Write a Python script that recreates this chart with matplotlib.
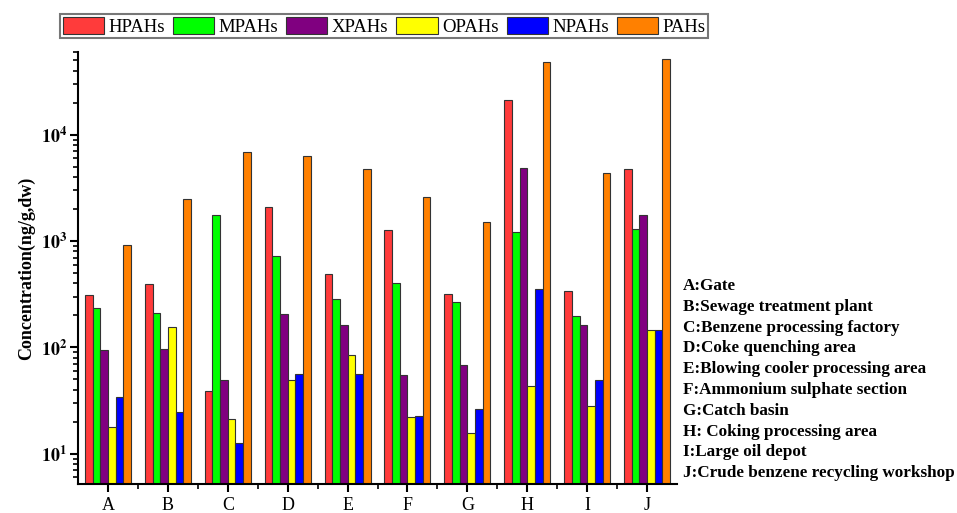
import numpy as np
import matplotlib
matplotlib.use("Agg")
import matplotlib.pyplot as plt
from matplotlib.ticker import LogLocator, FuncFormatter, FixedLocator

plt.rcParams['font.family'] = ['Liberation Serif', 'DejaVu Serif']
plt.rcParams['mathtext.fontset'] = 'stix'

sites = ['A', 'B', 'C', 'D', 'E', 'F', 'G', 'H', 'I', 'J']
series_names = ['HPAHs', 'MPAHs', 'XPAHs', 'OPAHs', 'NPAHs', 'PAHs']
HPAHs = [314, 393, 38.7, 2090, 486, 1280, 321, 21300, 343, 4760]
MPAHs = [237, 209, 1760, 730, 288, 402, 270, 1230, 197, 1310]
XPAHs = [95, 97.5, 49, 205, 161, 55, 69, 4900, 163, 1770]
OPAHs = [17.7, 156, 21.3, 49, 85, 22.1, 15.8, 43.8, 27.9, 145]
NPAHs = [34.4, 25, 12.7, 56.5, 56.5, 22.7, 26.3, 355, 49.5, 145]
PAHs = [927, 2510, 6850, 6280, 4730, 2590, 1530, 48400, 4340, 51300]
site_names = ['A:Gate', 'B:Sewage treatment plant', 'C:Benzene processing factory',
              'D:Coke quenching area', 'E:Blowing cooler processing area',
              'F:Ammonium sulphate section', 'G:Catch basin',
              'H: Coking processing area', 'I:Large oil depot',
              'J:Crude benzene recycling workshop']

colors = ['#FF3B3B', '#00FF00', '#800080', '#FFFF00', '#0000FF', '#FF8000']
data = [HPAHs, MPAHs, XPAHs, OPAHs, NPAHs, PAHs]

fig = plt.figure(figsize=(9.57, 5.13), dpi=100)
ax = fig.add_axes([0.0815, 0.0565, 0.626, 0.842])

x = np.arange(len(sites))
w = 0.128
for i, (vals, c, name) in enumerate(zip(data, colors, series_names)):
    ax.bar(x + (i - 2.5) * w, vals, width=w, color=c, edgecolor='#333333',
           linewidth=0.8, label=name, bottom=0)

ax.set_yscale('log')
ax.set_ylim(5.2, 60000)
ax.set_xlim(-0.5, 9.5)
ax.yaxis.set_major_locator(LogLocator(base=10, numticks=10))
ax.yaxis.set_minor_locator(LogLocator(base=10, subs=np.arange(2, 10), numticks=20))
ax.yaxis.set_major_formatter(FuncFormatter(
    lambda v, p: r'$\mathbf{10^{%d}}$' % int(round(np.log10(v)))))
ax.set_xticks(x)
ax.set_xticklabels(sites, fontsize=13)
ax.xaxis.set_minor_locator(FixedLocator(np.arange(0.5, 9.0, 1.0)))

for s in ['top', 'right']:
    ax.spines[s].set_visible(False)
for s in ['left', 'bottom']:
    ax.spines[s].set_linewidth(1.5)
ax.tick_params(axis='both', which='major', direction='out', length=6, width=1.5)
ax.tick_params(axis='both', which='minor', direction='out', length=3.5, width=1.2)
ax.tick_params(axis='y', which='major', labelsize=13, pad=2)

ax.set_ylabel('Concentration(ng/g,dw)', fontsize=13, fontweight='bold', labelpad=4)

leg = fig.legend(loc='lower left', bbox_to_anchor=(0.063, 0.926, 0.677, 0.051),
                 mode='expand', ncol=6, fontsize=13.5, frameon=True, fancybox=False,
                 edgecolor='#555555', handlelength=2.2, handleheight=1.05,
                 handletextpad=0.25, columnspacing=0.05, borderpad=0.12,
                 borderaxespad=0)
leg.get_frame().set_linewidth(1.5)

y0 = 1 - 286 / 513
dy = 20.8 / 513
for k, t in enumerate(site_names):
    fig.text(0.714, y0 - k * dy, t, fontsize=12.3, fontweight='bold',
             va='center', ha='left')

fig.savefig('out.png', dpi=100)
